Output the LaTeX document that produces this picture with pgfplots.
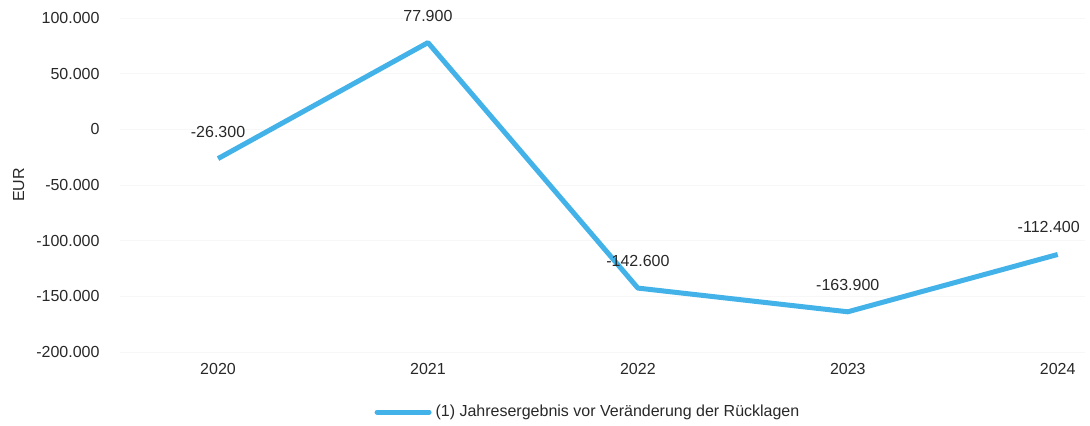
\documentclass[border=0pt]{standalone}
\usepackage{pgfplots}
\pgfplotsset{compat=1.18}
\usepackage{fontspec}
\setmainfont{Liberation Sans}
\definecolor{lineblue}{RGB}{66,178,232}
\definecolor{txt}{RGB}{40,40,40}
\begin{document}
\begin{tikzpicture}
\path[use as bounding box] (0,0) rectangle (545pt,213pt);
\begin{axis}[
  at={(60pt,37pt)}, anchor=south west,
  scale only axis,
  width=482.5pt, height=167pt,
  xmin=-0.467, xmax=4.13,
  ymin=-200000, ymax=100000,
  ytick={-200000,-150000,-100000,-50000,0,50000,100000},
  yticklabels={-200.000,-150.000,-100.000,-50.000,0,50.000,100.000},
  xtick={0,1,2,3,4},
  xticklabels={2020,2021,2022,2023,2024},
  scaled y ticks=false,
  axis line style={draw=none},
  tick style={draw=none},
  ymajorgrids, grid style={black!3},
  font=\fontsize{8pt}{9.6pt}\selectfont,
  tick label style={text=txt},
  yticklabel style={xshift=-6.7pt},
  xticklabel style={yshift=-2pt},
  ylabel={EUR},
  ylabel style={at={(axis description cs:-0.105,0.5)}, anchor=center, text=txt},
  legend style={at={(axis description cs:0.486,-0.18)}, anchor=center, draw=none, fill=none, font=\fontsize{8pt}{9.6pt}\selectfont, text=txt},
  legend image code/.code={\draw[line width=2.5pt, line cap=round] (0pt,0pt) -- (26pt,0pt);},
  nodes near coords,
  point meta=explicit symbolic,
  every node near coord/.append style={anchor=center, yshift=13.5pt, text=txt, font=\fontsize{8pt}{9.6pt}\selectfont},
]
\addplot[color=lineblue, line width=2.5pt, line join=round, mark=none] coordinates {
  (0,-26300) [-26.300]
  (1,77900) [77.900]
  (2,-142600) [-142.600]
  (3,-163900) [\raisebox{-2pt}{-163.900}]
  (4,-112400) [\hspace*{-9pt}-112.400]
};
\addlegendentry{(1) Jahresergebnis vor Veränderung der Rücklagen}
\end{axis}
\end{tikzpicture}
\end{document}
